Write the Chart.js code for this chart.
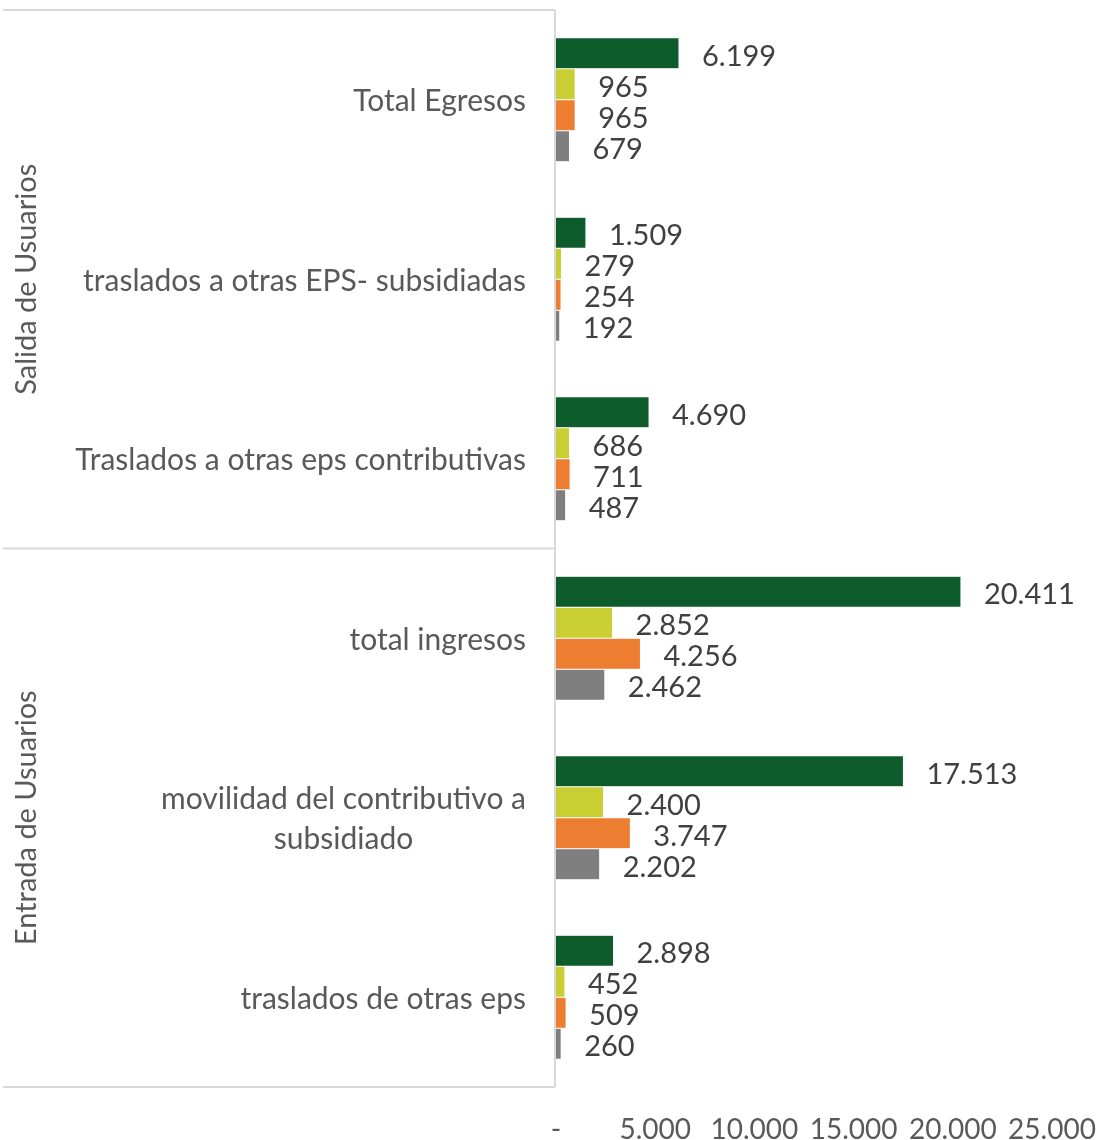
<!DOCTYPE html>
<html>
<head>
<meta charset="utf-8">
<script src="https://cdn.jsdelivr.net/npm/chart.js@4.4.1/dist/chart.umd.min.js"></script>
<style>
  body { margin: 0; background: #fff; }
  #wrap { width: 1100px; height: 1140px; position: relative; }
</style>
</head>
<body>
<div id="wrap"><canvas id="chart"></canvas></div>
<script>
const categories = [
    'Total Egresos',
    'traslados a otras EPS- subsidiadas',
    'Traslados a otras eps contributivas',
    'total ingresos',
    ['movilidad del contributivo a', 'subsidiado'],
    'traslados de otras eps'
];
const groups = ['Salida de Usuarios', 'Entrada de Usuarios'];
const seriesNames = ['Serie 1', 'Serie 2', 'Serie 3', 'Serie 4'];
const greenValues = [6199, 1509, 4690, 20411, 17513, 2898];
const yellowValues = [965, 279, 686, 2852, 2400, 452];
const orangeValues = [965, 254, 711, 4256, 3747, 509];
const grayValues = [679, 192, 487, 2462, 2202, 260];
const xTicks = [0, 5000, 10000, 15000, 20000, 25000];

const FONT = 'Lato';
const LINE_COLOR = '#d9d9d9';

function fmt(v) {
    if (v === 0) return '-';
    return String(v).replace(/\B(?=(\d{3})+(?!\d))/g, '.');
}

// data labels right of each bar
const barLabels = {
    id: 'barLabels',
    afterDatasetsDraw(chart) {
        const { ctx } = chart;
        ctx.save();
        ctx.font = `29px ${FONT}`;
        ctx.fillStyle = '#404040';
        ctx.textAlign = 'left';
        ctx.textBaseline = 'middle';
        chart.data.datasets.forEach((ds, i) => {
            chart.getDatasetMeta(i).data.forEach((bar, j) => {
                ctx.fillText(fmt(ds.data[j]), bar.x + 23, bar.y + 3);
            });
        });
        ctx.restore();
    }
};

// category labels (multi-line ones centered inside a right-aligned block),
// frame lines and group labels of the multi-level axis
const groupAxis = {
    id: 'groupAxis',
    afterDraw(chart) {
        const { ctx, chartArea } = chart;
        const y = chart.scales.y;
        const top = chartArea.top;
        const bottom = chartArea.bottom;
        const mid = (y.getPixelForValue(2) + y.getPixelForValue(3)) / 2;
        const axisX = chartArea.left - 1;
        ctx.save();

        ctx.font = `30px ${FONT}`;
        ctx.fillStyle = '#595959';
        ctx.textAlign = 'center';
        ctx.textBaseline = 'middle';
        const lineH = 40;
        const right = chartArea.left - 30;
        categories.forEach((c, i) => {
            const lines = Array.isArray(c) ? c : [c];
            const w = Math.max(...lines.map(l => ctx.measureText(l).width));
            const cy = y.getPixelForValue(i) + 2;
            lines.forEach((l, k) => {
                ctx.fillText(l, right - w / 2, cy + (k - (lines.length - 1) / 2) * lineH);
            });
        });

        ctx.strokeStyle = LINE_COLOR;
        ctx.lineWidth = 2;
        ctx.beginPath();
        ctx.moveTo(axisX, top);
        ctx.lineTo(axisX, bottom);
        [top, mid, bottom].forEach(yy => {
            ctx.moveTo(3, yy);
            ctx.lineTo(axisX, yy);
        });
        ctx.stroke();

        ctx.font = `29px ${FONT}`;
        [[top, mid], [mid, bottom]].forEach(([a, b], i) => {
            ctx.save();
            ctx.translate(27, (a + b) / 2);
            ctx.rotate(-Math.PI / 2);
            ctx.fillText(groups[i], 0, 0);
            ctx.restore();
        });
        ctx.restore();
    }
};

const colors = ['#0e5c2c', '#c9cf32', '#ed7d31', '#7f7f7f'];
const values = [greenValues, yellowValues, orangeValues, grayValues];

new Chart(document.getElementById('chart'), {
    type: 'bar',
    plugins: [barLabels, groupAxis],
    data: {
        labels: categories,
        datasets: values.map((v, i) => ({
            label: seriesNames[i],
            data: v,
            backgroundColor: colors[i],
            borderColor: '#ffffff',
            borderWidth: 0.5,
            categoryPercentage: 0.69,
            barPercentage: 1.0
        }))
    },
    options: {
        indexAxis: 'y',
        responsive: true,
        maintainAspectRatio: false,
        animation: false,
        layout: { padding: { top: 10, right: 48, left: 0, bottom: 0 } },
        plugins: {
            legend: { display: false },
            tooltip: { enabled: false }
        },
        scales: {
            x: {
                min: 0,
                max: 25000,
                afterBuildTicks(scale) {
                    scale.ticks = xTicks.map(v => ({ value: v }));
                },
                afterFit(scale) {
                    scale.height = 53;
                    scale.paddingLeft = 0;
                    scale.paddingRight = 0;
                },
                grid: { display: false, drawTicks: false },
                border: { display: false },
                ticks: {
                    padding: 26,
                    color: '#595959',
                    font: { family: FONT, size: 28 },
                    maxRotation: 0,
                    callback: v => fmt(v)
                }
            },
            y: {
                afterFit(scale) {
                    scale.width = 556;
                    scale.paddingTop = 0;
                    scale.paddingBottom = 0;
                },
                grid: { display: false, drawTicks: false },
                border: { display: false },
                ticks: { display: false }
            }
        }
    }
});
</script>
</body>
</html>
